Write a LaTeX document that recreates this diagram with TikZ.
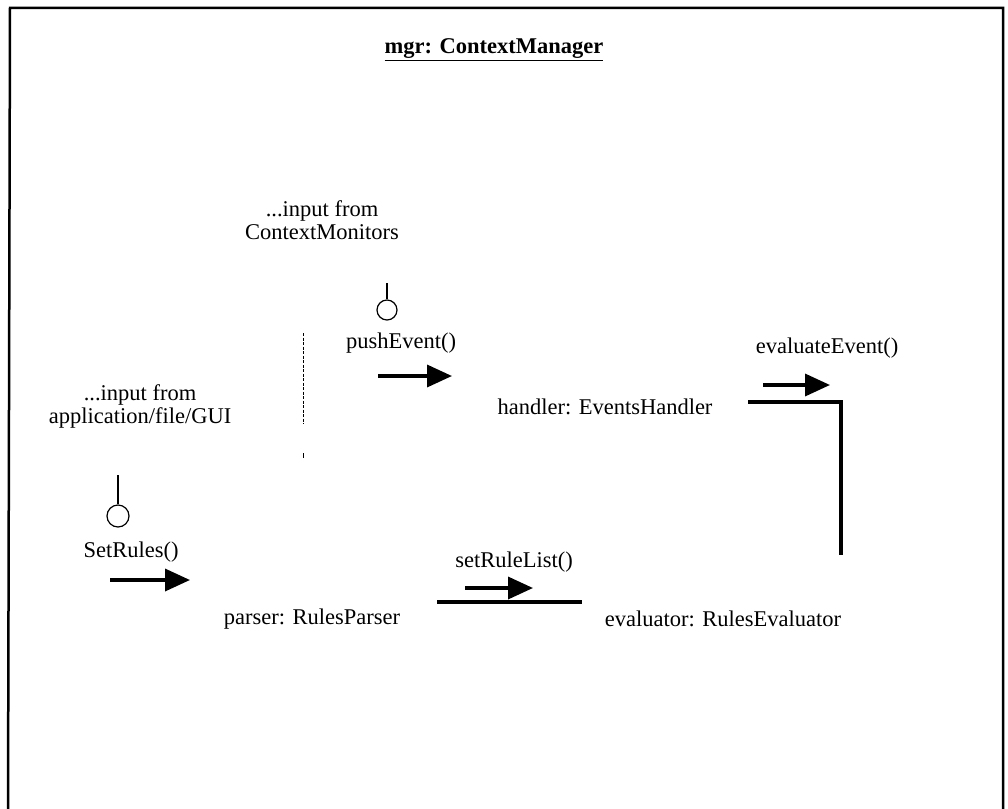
\documentclass[tikz,border=0pt]{standalone}
\usepackage{fontspec}
\setmainfont{Liberation Serif}
\usetikzlibrary{arrows.meta}
\begin{document}
\begin{tikzpicture}[x=1pt,y=-1pt,
  lbl/.style={font=\fontsize{22.5}{23}\selectfont, inner sep=0pt, align=center},
  msg/.style={line width=3.5pt, -{Triangle[length=25pt,width=22pt]}},
  link/.style={line width=3.5pt},
  stick/.style={line width=1.2pt},
  lolli/.style={draw, circle, line width=1.2pt, minimum size=20pt, inner sep=0pt},
  frame/.style={line width=2.5pt},
  sep/.style={line width=0.8pt, dash pattern=on 3pt off 1.5pt}
]
\useasboundingbox (0,0) rectangle (1008,808);
% frame
\coordinate (fbl) at (8,812);
\coordinate (ftl) at (10,8);
\coordinate (ftr) at (1003,8);
\coordinate (fbr) at (1003,812);
\draw[frame] (fbl) -- (ftl) -- (ftr) -- (fbr);

% title
\node[lbl, font=\fontsize{22.5}{23}\selectfont\bfseries] (title) at (494,50) {\underline{mgr: ContextManager}};

% context monitors input
\node[lbl] (cmin) at (322,220) {...input from\\ContextMonitors};
\coordinate (s1t) at (387,283);
\node[lolli] (l1) at (387,310) {};
\draw[stick] (s1t) -- (l1.north);
\node[lbl] (push) at (401,343) {pushEvent()};
\coordinate (a1s) at (378,376);
\coordinate (a1e) at (452,376);
\draw[msg] (a1s) -- (a1e);

% separator
\coordinate (d1) at (303,333);
\coordinate (d2) at (303,424);
\coordinate (d3) at (303,453);
\coordinate (d4) at (303,458);
\draw[sep] (d1) -- (d2);
\draw[line width=0.8pt] (d3) -- (d4);

% application input
\node[lbl] (appin) at (140,406) {...input from\\application/file/GUI};
\coordinate (s2t) at (118,475);
\node[lolli, minimum size=22pt] (l2) at (118,516) {};
\draw[stick] (s2t) -- (l2.north);
\node[lbl] (setr) at (131,552) {SetRules()};
\coordinate (a2s) at (110,580);
\coordinate (a2e) at (190,580);
\draw[msg] (a2s) -- (a2e);

% objects
\node[lbl] (handler) at (605,407) {handler: EventsHandler};
\node[lbl] (parser) at (312,619) {parser: RulesParser};
\node[lbl] (evaluator) at (723,619) {evaluator: RulesEvaluator};

% parser -> evaluator
\coordinate (p1) at (437,602);
\coordinate (p2) at (582,602);
\draw[link] (p1) -- (p2);
\node[lbl] (srl) at (514,562) {setRuleList()};
\coordinate (a3s) at (465,588);
\coordinate (a3e) at (533,588);
\draw[msg] (a3s) -- (a3e);

% handler -> evaluator
\coordinate (h1) at (748,402);
\coordinate (h2) at (841,402);
\coordinate (h3) at (841,555);
\draw[link] (h1) -- (h2) -- (h3);
\node[lbl] (eve) at (827,348) {evaluateEvent()};
\coordinate (a4s) at (763,385);
\coordinate (a4e) at (830,385);
\draw[msg] (a4s) -- (a4e);
\end{tikzpicture}
\end{document}
